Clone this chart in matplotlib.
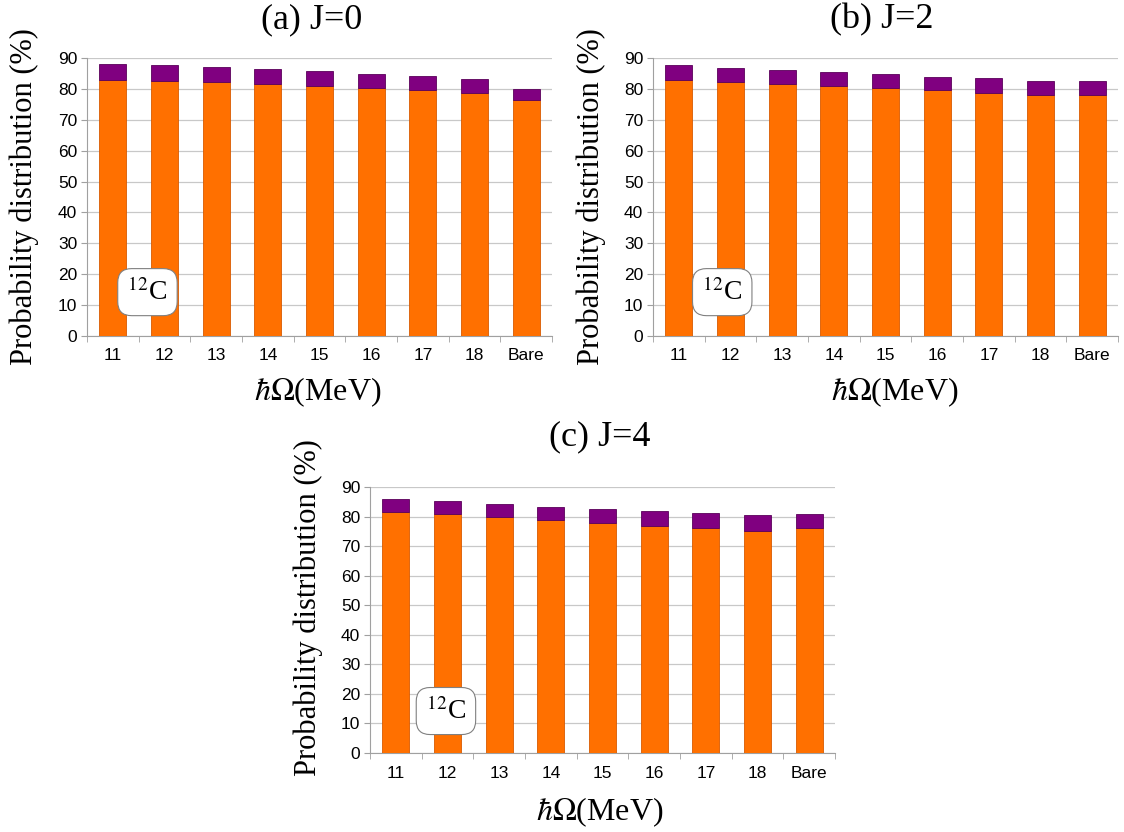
import matplotlib
matplotlib.use("Agg")
import matplotlib.pyplot as plt

plt.rcParams['mathtext.fontset'] = 'stix'

categories = ['11', '12', '13', '14', '15', '16', '17', '18', 'Bare']

# J=0
j0_main = [82.9, 82.5, 82.1, 81.5, 80.9, 80.2, 79.6, 78.7, 76.3]
j0_total = [88.2, 87.8, 87.1, 86.4, 85.7, 84.9, 84.2, 83.2, 80.0]
# J=2
j2_main = [82.8, 82.2, 81.6, 80.9, 80.2, 79.5, 78.7, 78.0, 78.1]
j2_total = [87.6, 86.8, 86.2, 85.5, 84.7, 84.0, 83.4, 82.5, 82.4]
# J=4
j4_main = [81.7, 80.8, 79.9, 78.7, 77.8, 76.9, 76.0, 75.2, 76.2]
j4_total = [86.0, 85.3, 84.3, 83.4, 82.6, 81.8, 81.1, 80.5, 80.7]

titles = ['(a) J=0', '(b) J=2', '(c) J=4']
yticks = [0, 10, 20, 30, 40, 50, 60, 70, 80, 90]

ORANGE = '#ff7000'
PURPLE = '#800080'
SERIF = 'Liberation Serif'
SANS = 'Liberation Sans'

W, H = 1124, 832
fig = plt.figure(figsize=(W / 100, H / 100), dpi=100)


def px_axes(left, top, right, bottom):
    return fig.add_axes([left / W, 1 - bottom / H, (right - left) / W, (bottom - top) / H])


def draw_panel(ax, main, total, box_x):
    x = list(range(len(categories)))
    extra = [t - m for t, m in zip(total, main)]
    ax.bar(x, main, width=0.52, color=ORANGE, edgecolor='#d85a00', linewidth=0.6, zorder=3)
    ax.bar(x, extra, bottom=main, width=0.52, color=PURPLE, edgecolor='#5a005a', linewidth=0.6, zorder=3)
    ax.set_xlim(-0.5, len(categories) - 0.5)
    ax.set_ylim(0, 90)
    ax.set_yticks(yticks)
    ax.set_xticks(x)
    ax.set_xticklabels(categories)
    ax.set_xticks([i - 0.5 for i in range(len(categories) + 1)], minor=True)
    ax.tick_params(axis='x', which='major', length=0, pad=9)
    ax.tick_params(axis='x', which='minor', length=4, color='#a0a0a0')
    ax.tick_params(axis='y', length=4, color='#a0a0a0', pad=3)
    for lab in ax.get_xticklabels() + ax.get_yticklabels():
        lab.set_fontfamily(SANS)
        lab.set_fontsize(12.5)
    ax.yaxis.grid(True, color='#c8c8c8', linewidth=0.9, zorder=0)
    ax.set_axisbelow(True)
    for s in ['top', 'right']:
        ax.spines[s].set_visible(False)
    for s in ['left', 'bottom']:
        ax.spines[s].set_color('#a0a0a0')
    ax.text(box_x, 14.2, r'$^{12}$C', family=SERIF, fontsize=20, ha='center', va='center', zorder=5,
            bbox=dict(boxstyle='round,pad=0.35,rounding_size=0.5', facecolor='white', edgecolor='#808080', linewidth=0.8))


ax_a = px_axes(87, 58, 552, 336)
ax_b = px_axes(653, 58, 1118, 336)
ax_c = px_axes(370, 487, 835, 753)

draw_panel(ax_a, j0_main, j0_total, 0.67)
draw_panel(ax_b, j2_main, j2_total, 0.84)
draw_panel(ax_c, j4_main, j4_total, 0.97)

# titles and axis labels
fig.text(312 / W, 1 - 20 / H, titles[0], family=SERIF, fontsize=26, ha='center', va='center')
fig.text(882 / W, 1 - 20 / H, titles[1], family=SERIF, fontsize=26, ha='center', va='center')
fig.text(600 / W, 1 - 437 / H, titles[2], family=SERIF, fontsize=26, ha='center', va='center')

for cx, cy in [(318, 392), (895, 392), (600, 812)]:
    fig.text(cx / W, 1 - cy / H, r'$\hbar\Omega$(MeV)', family=SERIF, fontsize=23, ha='center', va='center')

for cx, cy in [(24, 197), (591, 197), (308, 608)]:
    fig.text(cx / W, 1 - cy / H, 'Probability distribution (%)', family=SERIF, fontsize=22,
             rotation=90, ha='center', va='center')

fig.savefig('out.png', dpi=100)
